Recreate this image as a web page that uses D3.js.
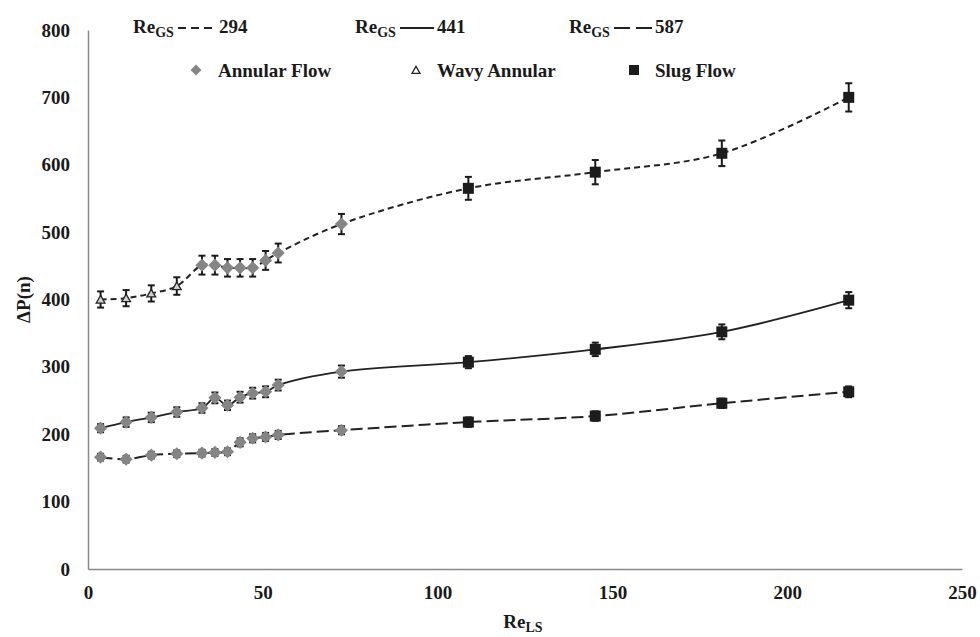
<!DOCTYPE html>
<html>
<head>
<meta charset="utf-8">
<script src="https://cdn.jsdelivr.net/npm/d3@7"></script>
<style>
  html, body { margin: 0; padding: 0; background: #ffffff; }
  svg { display: block; }
</style>
</head>
<body>
<svg id="chart" width="980" height="637"></svg>
<script>
// Liquid superficial Reynolds number (x) shared by all three gas rates
const reLS = [3.6, 10.9, 18.1, 25.4, 32.6, 36.3, 39.9, 43.5, 47.1, 50.8, 54.4, 72.5, 108.8, 145.1, 181.3, 217.6];

// Pressure drop for each gas Reynolds number
const dp294 = [400, 402, 409, 420, 451, 451, 447, 447, 447, 458, 469, 512, 565, 589, 617, 700];
const dp441 = [209, 218, 225, 233, 239, 254, 243, 255, 261, 263, 273, 293, 307, 326, 352, 399];
const dp587 = [166, 163, 169, 171, 172, 173, 174, 188, 194, 196, 199, 206, 218, 227, 246, 263];

// Error bar half-widths
const err294 = [12, 12, 12, 13, 14, 14, 13, 13, 13, 14, 14, 15, 17, 18, 19, 21];
const err441 = [6, 7, 7, 7, 7, 8, 7, 8, 8, 8, 8, 9, 9, 10, 11, 12];
const err587 = [5, 5, 5, 5, 5, 5, 5, 6, 6, 6, 6, 6, 7, 7, 7, 8];

// Flow regime at each point: W = wavy annular, A = annular, S = slug
const regime294 = ["W", "W", "W", "W", "A", "A", "A", "A", "A", "A", "A", "A", "S", "S", "S", "S"];
const regime441 = ["A", "A", "A", "A", "A", "A", "A", "A", "A", "A", "A", "A", "S", "S", "S", "S"];
const regime587 = ["A", "A", "A", "A", "A", "A", "A", "A", "A", "A", "A", "A", "S", "S", "S", "S"];

const gasLabels = ["294", "441", "587"];
const regimeLabels = ["Annular Flow", "Wavy Annular", "Slug Flow"];
const xTicks = [0, 50, 100, 150, 200, 250];
const yTicks = [0, 100, 200, 300, 400, 500, 600, 700, 800];

const FONT = "Liberation Serif";
const TEXT_COLOR = "#1a1a1a";

const series = [
  { label: gasLabels[0], values: dp294, err: err294, regime: regime294, dash: "6,4", legendDash: "8,5", width: 2 },
  { label: gasLabels[1], values: dp441, err: err441, regime: regime441, dash: null, legendDash: null, width: 1.8 },
  { label: gasLabels[2], values: dp587, err: err587, regime: regime587, dash: "12,5", legendDash: "16,6", width: 2 }
];

const svg = d3.select("#chart");
const margin = { left: 88, right: 18, top: 30, bottom: 68 };
const W = 980, H = 637;

const x = d3.scaleLinear().domain([0, 250]).range([margin.left, W - margin.right]);
const y = d3.scaleLinear().domain([0, 800]).range([H - margin.bottom, margin.top]);

const axisColor = "#8a8a8a";

function styleText(sel, size) {
  return sel.attr("font-family", FONT)
    .attr("font-weight", "bold")
    .attr("font-size", size)
    .attr("fill", TEXT_COLOR);
}

// Axes (lines only, no tick marks)
const xAxis = svg.append("g")
  .attr("transform", `translate(0,${y(0)})`)
  .call(d3.axisBottom(x).tickValues(xTicks).tickSize(0).tickPadding(17));
const yAxis = svg.append("g")
  .attr("transform", `translate(${x(0)},0)`)
  .call(d3.axisLeft(y).tickValues(yTicks).tickSize(0).tickPadding(18));
[xAxis, yAxis].forEach(g => {
  g.attr("font-family", FONT).attr("font-size", 19);
  g.select(".domain").attr("stroke", axisColor).attr("stroke-width", 1.5);
  styleText(g.selectAll("text"), 19);
});

// Axis titles
styleText(svg.append("text"), 19)
  .attr("transform", `translate(30,${y(400)}) rotate(-90)`)
  .attr("text-anchor", "middle")
  .text("ΔP(n)");

const xt = styleText(svg.append("text"), 19)
  .attr("x", x(125) - 2)
  .attr("y", 628)
  .attr("text-anchor", "middle");
xt.append("tspan").text("Re");
xt.append("tspan").attr("dy", 4).attr("font-size", 14).text("LS");

// Smoothed curves through the measured points
const line = d3.line()
  .x((d, i) => x(reLS[i]))
  .y(d => y(d))
  .curve(d3.curveCatmullRom.alpha(0.5));

series.forEach(s => {
  svg.append("path")
    .datum(s.values)
    .attr("fill", "none")
    .attr("stroke", "#222")
    .attr("stroke-width", s.width)
    .attr("stroke-dasharray", s.dash)
    .attr("d", line);
});

// Markers
const grey = "#858585";
const black = "#1c1c1c";
function drawMarker(g, type, cx, cy) {
  if (type === "A") {
    g.append("path")
      .attr("d", d3.symbol(d3.symbolDiamond2, 110)())
      .attr("transform", `translate(${cx},${cy})`)
      .attr("fill", grey);
  } else if (type === "S") {
    g.append("rect")
      .attr("x", cx - 5.5).attr("y", cy - 5.5)
      .attr("width", 11).attr("height", 11)
      .attr("fill", black);
  } else {
    g.append("path")
      .attr("d", d3.symbol(d3.symbolTriangle2, 55)())
      .attr("transform", `translate(${cx},${cy + 1})`)
      .attr("fill", "#cfcfcf")
      .attr("stroke", "#222")
      .attr("stroke-width", 1.3);
  }
}

series.forEach(s => {
  const g = svg.append("g");
  s.values.forEach((v, i) => {
    const cx = x(reLS[i]);
    const yTop = y(v + s.err[i]);
    const yBot = y(v - s.err[i]);
    // error bar with caps
    g.append("line").attr("x1", cx).attr("x2", cx).attr("y1", yTop).attr("y2", yBot)
      .attr("stroke", "#1a1a1a").attr("stroke-width", 2);
    [yTop, yBot].forEach(yy => {
      g.append("line").attr("x1", cx - 3.5).attr("x2", cx + 3.5).attr("y1", yy).attr("y2", yy)
        .attr("stroke", "#1a1a1a").attr("stroke-width", 2);
    });
    drawMarker(g, s.regime[i], cx, y(v));
  });
});

// Legend row 1: gas Reynolds numbers with line styles
const legend1X = [133, 355, 569];
series.forEach((s, i) => {
  const lx = legend1X[i];
  const t = styleText(svg.append("text"), 19).attr("x", lx).attr("y", 33);
  t.append("tspan").text("Re");
  t.append("tspan").attr("dy", 4).attr("font-size", 14).text("GS");
  const lineStart = lx + 45, lineEnd = lx + (i === 1 ? 79 : 83);
  svg.append("line")
    .attr("x1", lineStart).attr("x2", lineEnd)
    .attr("y1", 28).attr("y2", 28)
    .attr("stroke", "#222").attr("stroke-width", 2)
    .attr("stroke-dasharray", s.legendDash);
  styleText(svg.append("text"), 19).attr("x", lineEnd + 3).attr("y", 33).text(s.label);
});

// Legend row 2: flow regimes
const legend2 = [
  { type: "A", mx: 196, tx: 218 },
  { type: "W", mx: 416, tx: 437 },
  { type: "S", mx: 634, tx: 655 }
];
legend2.forEach((d, i) => {
  const g = svg.append("g");
  if (d.type === "W") {
    g.append("path")
      .attr("d", d3.symbol(d3.symbolTriangle2, 45)())
      .attr("transform", `translate(${d.mx},${71})`)
      .attr("fill", "none").attr("stroke", "#222").attr("stroke-width", 1.3);
  } else if (d.type === "A") {
    g.append("path")
      .attr("d", d3.symbol(d3.symbolDiamond2, 75)())
      .attr("transform", `translate(${d.mx},70)`)
      .attr("fill", grey);
  } else {
    g.append("rect")
      .attr("x", d.mx - 5).attr("y", 65)
      .attr("width", 10).attr("height", 10)
      .attr("fill", black);
  }
  styleText(svg.append("text"), 19).attr("x", d.tx).attr("y", 77).text(regimeLabels[i]);
});
</script>
</body>
</html>
